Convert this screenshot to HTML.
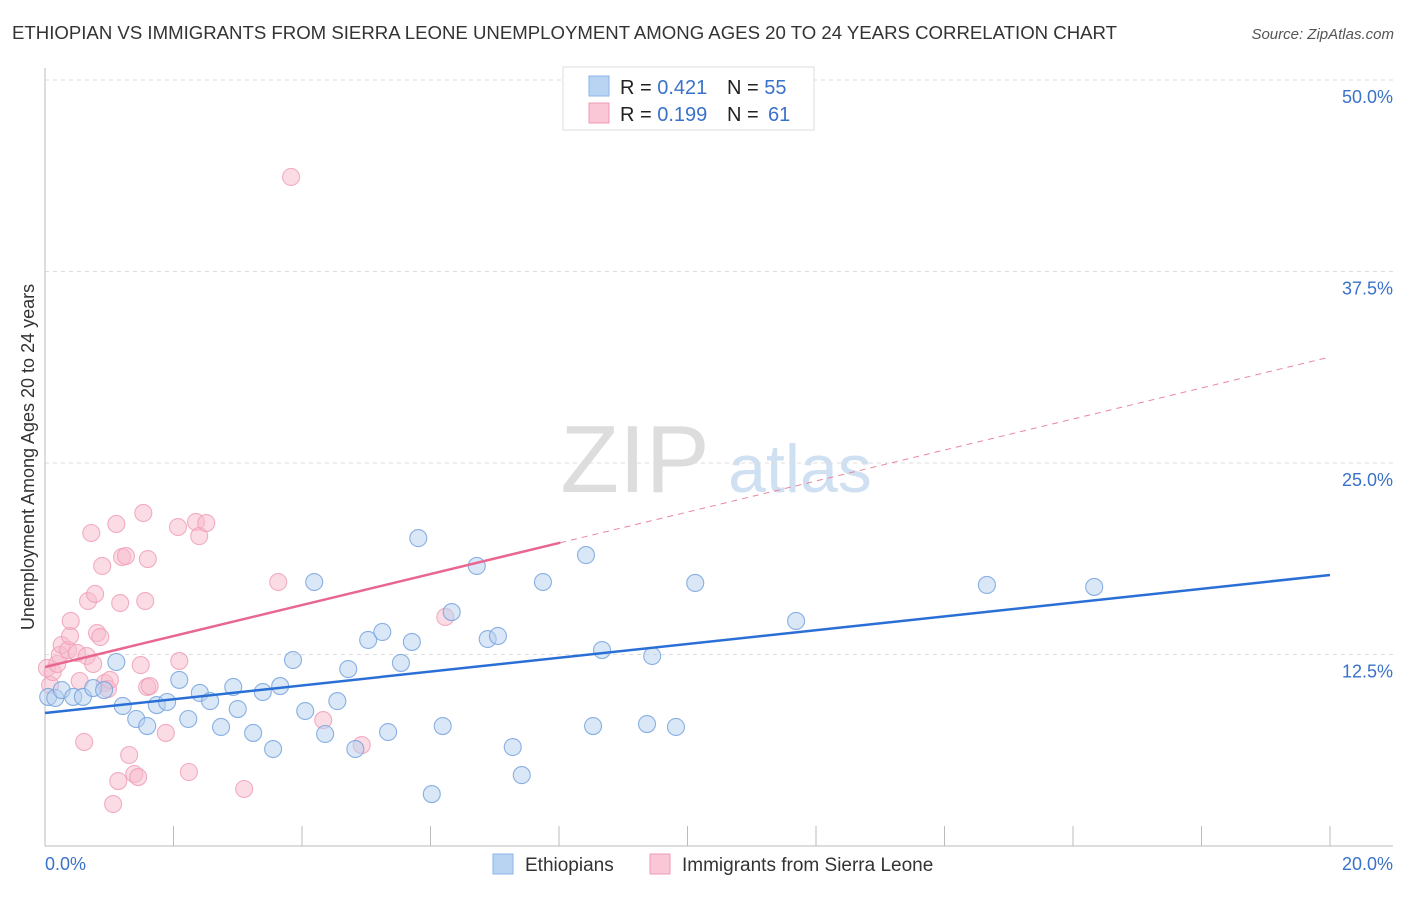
<!DOCTYPE html>
<html><head><meta charset="utf-8"><style>
body{margin:0;background:#fff;font-family:"Liberation Sans",sans-serif}
svg text{font-family:"Liberation Sans",sans-serif}
</style></head><body>
<svg id="chart" width="1406" height="892" xmlns="http://www.w3.org/2000/svg">
<text x="12" y="39" font-size="18" fill="#333" textLength="1105" lengthAdjust="spacingAndGlyphs">ETHIOPIAN VS IMMIGRANTS FROM SIERRA LEONE UNEMPLOYMENT AMONG AGES 20 TO 24 YEARS CORRELATION CHART</text>
<text x="1394" y="39" font-size="15" font-style="italic" fill="#555" text-anchor="end">Source: ZipAtlas.com</text>
<text x="635" y="492" font-size="96" font-family="Liberation Serif" fill="#ddd" text-anchor="middle">ZIP</text>
<text x="800" y="492" font-size="68" fill="#cfe0f3" text-anchor="middle">atlas</text>
<g id="grid"></g><g id="axes"></g><g id="pts"></g><g id="lines"></g>
<text transform="translate(34,457) rotate(-90)" font-size="18" fill="#333" text-anchor="middle">Unemployment Among Ages 20 to 24 years</text>
<g>
<rect x="563" y="67" width="251" height="63" fill="#fff" stroke="#ddd"/>
<rect x="589" y="76" width="20" height="20" fill="#b9d3f3" stroke="#8ab4e8"/>
<rect x="589" y="103" width="20" height="20" fill="#f9c7d6" stroke="#ef9bb5"/>
<text x="620" y="94" font-size="20" fill="#222">R = <tspan fill="#3a72c9">0.421</tspan></text>
<text x="727" y="94" font-size="20" fill="#222">N = <tspan fill="#3a72c9">55</tspan></text>
<text x="620" y="121" font-size="20" fill="#222">R = <tspan fill="#3a72c9">0.199</tspan></text>
<text x="727" y="121" font-size="20" fill="#222">N = <tspan x="768" fill="#3a72c9">61</tspan></text>
</g>
<g>
<rect x="493" y="854" width="20" height="20" fill="#b9d3f3" stroke="#8ab4e8"/>
<text x="525" y="871" font-size="19" fill="#333">Ethiopians</text>
<rect x="650" y="854" width="20" height="20" fill="#f9c7d6" stroke="#ef9bb5"/>
<text x="682" y="871" font-size="19" fill="#333">Immigrants from Sierra Leone</text>
</g>
</svg>
<script>
const yTicks=[12.5,25,37.5,50];
const yTickLabels=["12.5%","25.0%","37.5%","50.0%"];
const xEndLabels=["0.0%","20.0%"];
const blueX=[0.05,0.16,0.26,0.44,0.59,0.75,0.92,1.11,1.21,1.42,1.59,1.74,1.90,2.09,2.23,2.41,2.57,2.74,2.93,3.00,3.24,3.39,3.55,3.66,3.86,4.05,4.19,4.36,4.55,4.72,4.83,5.03,5.25,5.34,5.54,5.71,5.81,6.02,6.19,6.33,6.72,6.89,7.05,7.28,7.42,7.75,8.42,8.53,8.67,9.37,9.45,9.82,10.12,11.69,14.66,16.33];
const blueY=[9.73,9.66,10.18,9.73,9.73,10.31,10.18,12.01,9.14,8.29,7.83,9.20,9.40,10.84,8.29,9.99,9.46,7.77,10.38,8.94,7.38,10.05,6.33,10.44,12.14,8.81,17.23,7.31,9.46,11.55,6.33,13.45,13.97,7.44,11.95,13.32,20.10,3.39,7.83,15.27,18.28,13.51,13.71,6.46,4.63,17.23,18.99,7.83,12.79,7.96,12.40,7.77,17.17,14.69,17.04,16.91];
const pinkX=[0.03,0.08,0.12,0.19,0.23,0.26,0.36,0.39,0.40,0.50,0.54,0.61,0.65,0.67,0.72,0.75,0.78,0.81,0.86,0.89,0.93,0.98,1.01,1.06,1.11,1.14,1.17,1.20,1.26,1.31,1.39,1.45,1.49,1.53,1.56,1.59,1.60,1.63,1.88,2.07,2.09,2.24,2.35,2.40,2.51,3.10,3.63,3.83,4.33,4.93,6.23];
const pinkY=[11.62,10.51,11.36,11.88,12.47,13.12,12.79,13.71,14.69,12.60,10.77,6.79,12.40,15.99,20.43,11.88,16.45,13.90,13.64,18.28,10.64,10.25,10.84,2.74,21.02,4.24,15.86,18.86,18.93,5.94,4.70,4.50,11.81,21.74,15.99,10.38,18.73,10.44,7.38,20.82,12.08,4.83,21.15,20.23,21.08,3.72,17.23,43.67,8.22,6.59,14.95];
const blueTrend=[8.68,17.69];
const pinkTrend=[11.68,31.92];
const pinkSolidEnd=8.02;
const X0=45,X1=1330,Y0=846,Y50=80;
const sx=v=>X0+(X1-X0)*v/20, sy=v=>Y0-(Y0-Y50)*v/50;
const NS="http://www.w3.org/2000/svg";
function mk(tag,parent,attrs){const e=document.createElementNS(NS,tag);for(const k in attrs)e.setAttribute(k,attrs[k]);document.getElementById(parent).appendChild(e);return e;}
yTicks.forEach((t,i)=>{
 const g=mk('line','grid',{x1:X0,x2:1393,y1:sy(t),y2:sy(t),stroke:'#ddd','stroke-dasharray':'4,4'});
 
 
 const l=mk('text','grid',{x:1393,y:sy(t)+23,'font-size':18,fill:'#3a72c9','text-anchor':'end'});l.textContent=yTickLabels[i];
 
 
});
const ya=mk('line','axes',{x1:X0,x2:X0,y1:68,y2:Y0,stroke:'#bbb'});


const xa=mk('line','axes',{x1:X0,x2:1393,y1:Y0,y2:Y0,stroke:'#bbb'});


for(let i=0;i<=10;i++){const t=mk('line','axes',{x1:sx(i*2),x2:sx(i*2),y1:826,y2:Y0,stroke:'#bbb'});
 
 }
[[0,'start'],[20,'end']].forEach((p,i)=>{const t=mk('text','axes',{x:sx(p[0])+(i?63:0),y:870,'font-size':18,fill:'#3a72c9','text-anchor':p[1]});t.textContent=xEndLabels[i];
 
 });
function pts(xs,ys,fill,stroke,name){xs.forEach((x,i)=>{const c=mk('circle','pts',{cx:sx(x),cy:sy(ys[i]),r:8.5,fill:fill,'fill-opacity':0.5,stroke:stroke,'stroke-opacity':0.8,'stroke-width':1.1});
 
 });}
pts(pinkX,pinkY,'#f7b9cc','#ef9bb5','sierra-leone-point');
pts(blueX,blueY,'#b5cff0','#6f9fdc','ethiopian-point');
const bl=mk('line','lines',{x1:sx(0),y1:sy(blueTrend[0]),x2:sx(20),y2:sy(blueTrend[1]),stroke:'#2a6fd6','stroke-width':2.5});


const pe=pinkTrend[0]+(pinkTrend[1]-pinkTrend[0])*pinkSolidEnd/20;
const pl=mk('line','lines',{x1:sx(0),y1:sy(pinkTrend[0]),x2:sx(pinkSolidEnd),y2:sy(pe),stroke:'#e8668f','stroke-width':2.5});


const pd=mk('line','lines',{x1:sx(pinkSolidEnd),y1:sy(pe),x2:sx(20),y2:sy(pinkTrend[1]),stroke:'#e8889f','stroke-width':1,'stroke-dasharray':'6,5'});


</script>
</body></html>
